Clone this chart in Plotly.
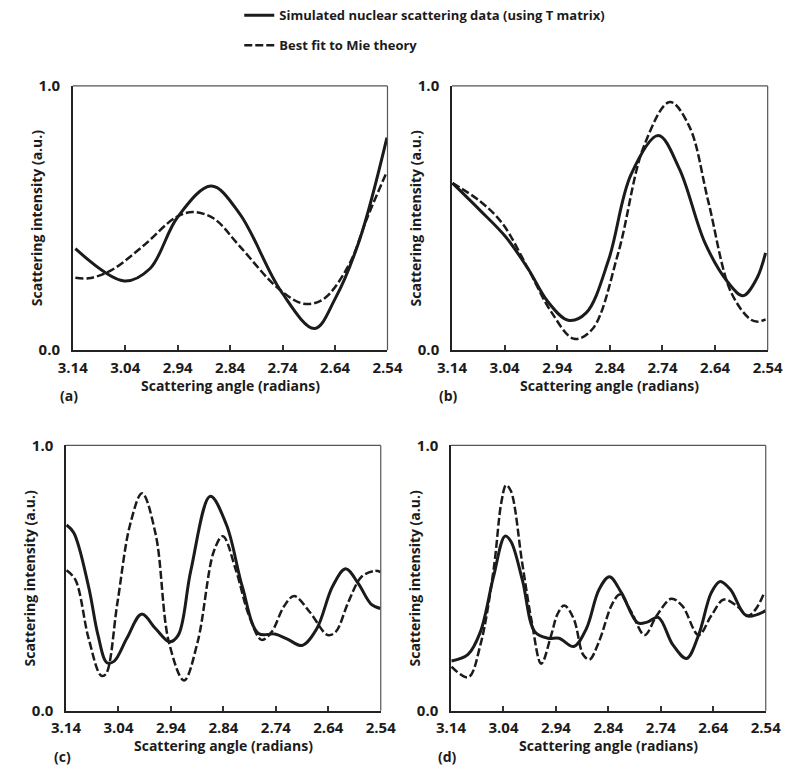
import plotly.graph_objects as go

# ---------------- data ----------------
a_sim_x = [3.135, 3.042, 2.993, 2.94, 2.876, 2.822, 2.743, 2.679, 2.639, 2.593, 2.541]
a_sim_y = [0.384, 0.262, 0.308, 0.504, 0.621, 0.517, 0.223, 0.082, 0.198, 0.419, 0.804]
a_mie_x = [3.135, 3.11, 3.067, 3.006, 2.944, 2.911, 2.871, 2.822, 2.749, 2.70, 2.663, 2.614, 2.578, 2.541]
a_mie_y = [0.274, 0.272, 0.302, 0.394, 0.502, 0.523, 0.498, 0.394, 0.235, 0.176, 0.192, 0.321, 0.504, 0.676]

b_sim_x = [3.139, 3.087, 3.038, 2.995, 2.958, 2.919, 2.885, 2.842, 2.80, 2.748, 2.708, 2.659, 2.616, 2.587, 2.561, 2.544]
b_sim_y = [0.632, 0.53, 0.429, 0.307, 0.184, 0.113, 0.141, 0.344, 0.663, 0.812, 0.687, 0.405, 0.258, 0.206, 0.27, 0.368]
b_mie_x = [3.139, 3.087, 3.044, 2.995, 2.952, 2.908, 2.873, 2.824, 2.775, 2.726, 2.689, 2.653, 2.61, 2.573, 2.558, 2.544]
b_mie_y = [0.632, 0.564, 0.479, 0.307, 0.147, 0.043, 0.08, 0.368, 0.773, 0.939, 0.847, 0.564, 0.221, 0.117, 0.108, 0.117]

c_sim_x = [3.139, 3.125, 3.097, 3.079, 3.062, 3.048, 3.024, 2.996, 2.969, 2.943, 2.926, 2.902, 2.865,
           2.834, 2.804, 2.773, 2.742, 2.718, 2.69, 2.662, 2.632, 2.607, 2.583, 2.558, 2.54]
c_sim_y = [0.70, 0.67, 0.468, 0.285, 0.181, 0.187, 0.273, 0.364, 0.309, 0.26, 0.285, 0.529, 0.808,
           0.70, 0.468, 0.291, 0.289, 0.27, 0.246, 0.309, 0.468, 0.535, 0.48, 0.401, 0.385]
c_mie_x = [3.139, 3.122, 3.097, 3.073, 3.064, 3.042, 3.018, 2.995, 2.969, 2.944, 2.915, 2.889, 2.858,
           2.841, 2.816, 2.791, 2.767, 2.748, 2.724, 2.705, 2.675, 2.641, 2.626, 2.601, 2.577, 2.552, 2.54]
c_mie_y = [0.529, 0.493, 0.273, 0.132, 0.138, 0.407, 0.70, 0.82, 0.664, 0.26, 0.114, 0.26, 0.602,
           0.658, 0.529, 0.358, 0.267, 0.297, 0.395, 0.432, 0.371, 0.285, 0.297, 0.413, 0.504, 0.527, 0.523]

d_sim_x = [3.139, 3.108, 3.084, 3.059, 3.037, 3.026, 3.004, 2.98, 2.955, 2.934, 2.906, 2.882, 2.858,
           2.838, 2.815, 2.784, 2.766, 2.745, 2.717, 2.691, 2.668, 2.644, 2.627, 2.607, 2.577, 2.54]
d_sim_y = [0.187, 0.211, 0.297, 0.505, 0.658, 0.639, 0.493, 0.297, 0.273, 0.273, 0.242, 0.309, 0.456,
           0.505, 0.444, 0.331, 0.334, 0.352, 0.248, 0.197, 0.285, 0.444, 0.487, 0.456, 0.358, 0.377]
d_mie_x = [3.139, 3.107, 3.084, 3.059, 3.044, 3.035, 3.026, 3.004, 2.986, 2.968, 2.949, 2.937, 2.924,
           2.906, 2.888, 2.876, 2.858, 2.833, 2.818, 2.796, 2.771, 2.748, 2.72, 2.699, 2.668, 2.644,
           2.62, 2.595, 2.574, 2.559, 2.543]
d_mie_y = [0.166, 0.126, 0.248, 0.529, 0.786, 0.85, 0.829, 0.553, 0.334, 0.177, 0.285, 0.364, 0.397,
           0.346, 0.211, 0.193, 0.26, 0.401, 0.438, 0.371, 0.285, 0.358, 0.422, 0.395, 0.285, 0.358,
           0.419, 0.395, 0.358, 0.383, 0.444]

x_tick_vals = [3.14, 3.04, 2.94, 2.84, 2.74, 2.64, 2.54]
x_tick_text = ["3.14", "3.04", "2.94", "2.84", "2.74", "2.64", "2.54"]
y_tick_vals = [0.0, 1.0]
y_tick_text = ["0.0", "1.0"]
panel_labels = ["(a)", "(b)", "(c)", "(d)"]
series_names = ["Simulated nuclear scattering data (using T matrix)", "Best fit to Mie theory"]
x_title = "Scattering angle (radians)"
y_title = "Scattering intensity (a.u.)"

panels = [
    (a_sim_x, a_sim_y, a_mie_x, a_mie_y),
    (b_sim_x, b_sim_y, b_mie_x, b_mie_y),
    (c_sim_x, c_sim_y, c_mie_x, c_mie_y),
    (d_sim_x, d_sim_y, d_mie_x, d_mie_y),
]

# ---------------- layout geometry ----------------
W, H = 800, 778
boxes = [  # left, right, top, bottom in pixels
    (60, 387, 75, 347),
    (454, 782, 75, 347),
    (53, 380, 445, 718),
    (453, 780, 445, 718),
]
FONT = "Open Sans"
INK = "#1b1b1b"

fig = go.Figure()
annotations = []
shapes = []
for i, ((sx, sy, mx, my), (l, r, t, b)) in enumerate(zip(panels, boxes)):
    n = "" if i == 0 else str(i + 1)
    xa, ya = "x" + n, "y" + n
    fig.add_trace(go.Scatter(x=sx, y=sy, mode="lines", line=dict(color=INK, width=3, shape="spline", smoothing=1.0),
                             name=series_names[0], legendgroup="sim", showlegend=(i == 0), xaxis=xa, yaxis=ya,
                             hoverinfo="skip"))
    fig.add_trace(go.Scatter(x=mx, y=my, mode="lines",
                             line=dict(color=INK, width=2.5, dash="8px,3px", shape="spline", smoothing=1.0),
                             name=series_names[1], legendgroup="mie", showlegend=(i == 0), xaxis=xa, yaxis=ya,
                             hoverinfo="skip"))
    xdom = [l / W, r / W]
    ydom = [1 - b / H, 1 - t / H]
    fig.layout["xaxis" + n] = dict(
        domain=xdom, anchor=ya, range=[3.14, 2.54], tickvals=x_tick_vals, ticktext=x_tick_text,
        ticks="inside", ticklen=5, tickwidth=1.5, tickcolor="#333", showgrid=False, zeroline=False,
        showline=True, linecolor="#222", linewidth=1.5, fixedrange=True,
        tickfont=dict(family=FONT, size=15, color=INK, weight=700), ticklabelstandoff=3,
    )
    fig.layout["yaxis" + n] = dict(
        domain=ydom, anchor=xa, range=[0, 1], tickvals=y_tick_vals, ticktext=y_tick_text,
        ticks="", showgrid=False, zeroline=False, showline=True, linecolor="#222", linewidth=1.5,
        fixedrange=True,
        tickfont=dict(family=FONT, size=15, color=INK, weight=700), ticklabelstandoff=8,
    )
    # top & right frame lines (thin grey)
    shapes.append(dict(type="line", xref=xa + " domain", yref=ya + " domain", x0=0, x1=1, y0=1, y1=1,
                       line=dict(color="#555", width=1.2)))
    shapes.append(dict(type="line", xref=xa + " domain", yref=ya + " domain", x0=1, x1=1, y0=0, y1=1,
                       line=dict(color="#555", width=1.2)))
    # axis titles
    annotations.append(dict(text=x_title, xref="paper", yref="paper", x=(l + r) / 2 / W, y=1 - (b + 36) / H,
                            showarrow=False, xanchor="center", yanchor="middle",
                            font=dict(family=FONT, size=14, color=INK, weight=700)))
    annotations.append(dict(text=y_title, xref="paper", yref="paper", x=(l - 38) / W, y=1 - (t + b) / 2 / H,
                            showarrow=False, xanchor="center", yanchor="middle", textangle=-90,
                            font=dict(family=FONT, size=14, color=INK, weight=700)))
    # panel label
    annotations.append(dict(text=panel_labels[i], xref="paper", yref="paper", x=(l - 4) / W, y=1 - (b + 47) / H,
                            showarrow=False, xanchor="center", yanchor="middle",
                            font=dict(family=FONT, size=14, color=INK, weight=700)))

fig.update_layout(
    width=W, height=H, margin=dict(l=0, r=0, t=0, b=0),
    paper_bgcolor="white", plot_bgcolor="white",
    annotations=annotations, shapes=shapes,
    showlegend=True, hovermode=False, dragmode=False,
    legend=dict(x=233 / W, y=1 + 13 / H, xanchor="left", yanchor="top", bgcolor="rgba(0,0,0,0)",
                font=dict(family=FONT, size=13, color=INK, weight=700), tracegroupgap=10,
                traceorder="grouped", itemclick=False, itemdoubleclick=False),
)

fig.write_html("out.html", config={"displayModeBar": False},
               post_script="document.body.style.margin='0';")
